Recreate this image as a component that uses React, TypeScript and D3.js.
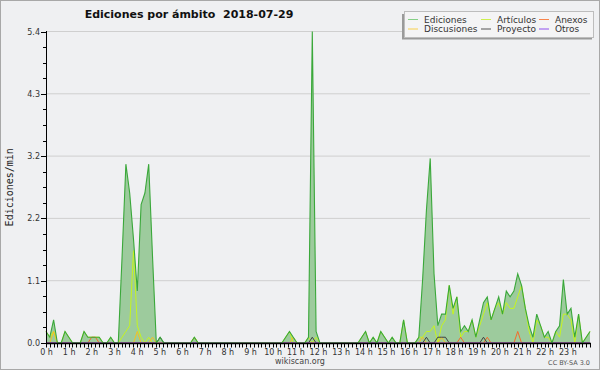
import React from "react";
import * as d3 from "d3";

const hourLabels = [
  "0 h", "1 h", "2 h", "3 h", "4 h", "5 h", "6 h", "7 h", "8 h", "9 h", "10 h", "11 h",
  "12 h", "13 h", "14 h", "15 h", "16 h", "17 h", "18 h", "19 h", "20 h", "21 h", "22 h", "23 h",
];

// edits per minute, 10-minute bins (144 per day)
const ediciones = [
  0.2, 0.1, 0.4, 0, 0, 0.2, 0.1, 0, 0, 0, 0.2, 0.1,
  0.1, 0.1, 0.1, 0, 0, 0.1, 0, 0, 1.5, 3.1, 2.6, 1.8,
  0.9, 2.4, 2.6, 3.1, 1.5, 0, 0.1, 0, 0, 0, 0, 0,
  0, 0, 0, 0.1, 0, 0, 0, 0, 0, 0, 0, 0,
  0, 0, 0, 0, 0, 0, 0, 0, 0, 0, 0, 0,
  0, 0, 0, 0.1, 0.2, 0.1, 0, 0, 0, 0.1, 5.4, 0.2,
  0, 0, 0, 0, 0, 0, 0, 0, 0, 0, 0, 0.1,
  0.2, 0, 0.1, 0, 0.2, 0.1, 0, 0.1, 0, 0, 0.4, 0,
  0, 0, 0.1, 1.1, 2.3, 3.2, 1.2, 0.3, 0.5, 0.5, 1.0, 0.6,
  0.8, 0.2, 0.3, 0.2, 0.4, 0.1, 0.4, 0.7, 0.8, 0.4, 0.6, 0.8,
  0.5, 0.9, 0.8, 0.9, 1.2, 1.0, 0.6, 0.3, 0.1, 0.5, 0.3, 0.1,
  0.2, 0, 0.2, 0.3, 1.1, 0.5, 0.6, 0.1, 0.5, 0, 0.1, 0.2,
];

const articulos = [
  0.2, 0.1, 0.2, 0, 0, 0.2, 0.1, 0, 0, 0, 0.2, 0.1,
  0.1, 0.1, 0.1, 0, 0, 0.1, 0, 0, 0.1, 0.2, 0.3, 1.6,
  0.3, 0.1, 0, 0.1, 0, 0, 0, 0, 0, 0, 0, 0,
  0, 0, 0, 0.1, 0, 0, 0, 0, 0, 0, 0, 0,
  0, 0, 0, 0, 0, 0, 0, 0, 0, 0, 0, 0,
  0, 0, 0, 0.1, 0.2, 0, 0, 0, 0, 0.1, 0, 0.1,
  0, 0, 0, 0, 0, 0, 0, 0, 0, 0, 0, 0.1,
  0.2, 0, 0.1, 0, 0.2, 0.1, 0, 0.1, 0, 0, 0.4, 0,
  0, 0, 0.1, 0.1, 0.2, 0.2, 0.3, 0, 0.3, 0.4, 1.0, 0.5,
  0.8, 0.1, 0.2, 0.2, 0.4, 0.1, 0.3, 0.5, 0.7, 0.4, 0.6, 0.7,
  0.5, 0.7, 0.6, 0.6, 0.8, 1.0, 0.6, 0.2, 0, 0.4, 0.3, 0.1,
  0.1, 0, 0.2, 0.1, 0.5, 0.5, 0.4, 0, 0.5, 0, 0.1, 0.2,
];

const anexos = [
  0, 0, 0, 0, 0, 0, 0, 0, 0, 0, 0, 0,
  0.1, 0.1, 0, 0, 0, 0, 0, 0, 0, 0, 0, 0,
  0, 0, 0, 0, 0, 0, 0, 0, 0, 0, 0, 0,
  0, 0, 0, 0, 0, 0, 0, 0, 0, 0, 0, 0,
  0, 0, 0, 0, 0, 0, 0, 0, 0, 0, 0, 0,
  0, 0, 0, 0, 0, 0, 0, 0, 0, 0, 0, 0,
  0, 0, 0, 0, 0, 0, 0, 0, 0, 0, 0, 0,
  0, 0, 0, 0, 0, 0, 0, 0, 0, 0, 0, 0,
  0, 0, 0, 0, 0, 0, 0, 0, 0, 0, 0, 0,
  0, 0.1, 0, 0, 0, 0, 0, 0, 0.1, 0, 0, 0,
  0, 0, 0, 0, 0.2, 0, 0, 0, 0, 0, 0, 0,
  0, 0, 0, 0, 0, 0, 0, 0, 0, 0, 0, 0,
];

const discusiones = [
  0, 0, 0.2, 0, 0, 0, 0, 0, 0, 0, 0, 0,
  0, 0, 0, 0, 0, 0, 0, 0, 0, 0, 0, 0,
  0.2, 0, 0, 0, 0.1, 0, 0, 0, 0, 0, 0, 0,
  0, 0, 0, 0.1, 0, 0, 0, 0, 0, 0, 0, 0,
  0, 0, 0, 0, 0, 0, 0, 0, 0, 0, 0, 0,
  0, 0, 0, 0, 0, 0.1, 0, 0, 0, 0, 0, 0,
  0, 0, 0, 0, 0, 0, 0, 0, 0, 0, 0, 0,
  0, 0, 0, 0, 0, 0, 0, 0, 0, 0, 0, 0,
  0, 0, 0, 0.1, 0, 0, 0, 0, 0.1, 0, 0, 0,
  0, 0, 0, 0, 0, 0, 0, 0, 0, 0, 0, 0,
  0, 0, 0, 0, 0, 0, 0, 0, 0, 0, 0, 0,
  0, 0, 0, 0, 0, 0, 0, 0, 0, 0, 0, 0,
];

const proyecto = [
  0, 0, 0, 0, 0, 0, 0, 0, 0, 0, 0, 0,
  0, 0, 0, 0, 0, 0, 0, 0, 0, 0, 0, 0,
  0, 0, 0, 0, 0, 0, 0.1, 0, 0, 0, 0, 0,
  0, 0, 0, 0, 0, 0, 0, 0, 0, 0, 0, 0,
  0, 0, 0, 0, 0, 0, 0, 0, 0, 0, 0, 0,
  0, 0, 0, 0, 0, 0, 0, 0, 0, 0, 0.1, 0,
  0, 0, 0, 0, 0, 0, 0, 0, 0, 0, 0, 0,
  0, 0, 0, 0, 0, 0, 0, 0, 0, 0, 0, 0,
  0, 0, 0, 0, 0.1, 0, 0, 0.1, 0.1, 0.1, 0, 0,
  0, 0, 0, 0, 0, 0, 0, 0.1, 0, 0, 0, 0,
  0, 0, 0, 0, 0, 0, 0, 0, 0, 0, 0, 0,
  0, 0, 0, 0, 0, 0, 0, 0, 0, 0, 0, 0,
];

const otros = [
  0, 0, 0, 0, 0, 0, 0, 0, 0, 0, 0, 0,
  0, 0, 0, 0, 0, 0, 0, 0, 0, 0, 0, 0,
  0, 0, 0, 0, 0, 0, 0, 0, 0, 0, 0, 0,
  0, 0, 0, 0, 0, 0, 0, 0, 0, 0, 0, 0,
  0, 0, 0, 0, 0, 0, 0, 0, 0, 0, 0, 0,
  0, 0, 0, 0, 0, 0, 0, 0, 0, 0, 0, 0,
  0, 0, 0, 0, 0, 0, 0, 0, 0, 0, 0, 0,
  0, 0, 0, 0, 0, 0, 0, 0, 0, 0, 0, 0,
  0, 0, 0, 0, 0, 0, 0, 0, 0, 0, 0, 0,
  0, 0, 0, 0, 0, 0, 0, 0, 0, 0, 0, 0,
  0, 0, 0, 0, 0, 0, 0, 0, 0, 0, 0, 0,
  0, 0, 0, 0, 0, 0, 0, 0, 0, 0, 0, 0,
];

const seriesNames = ["Ediciones", "Artículos", "Anexos", "Discusiones", "Proyecto", "Otros"];
const legendOrder = ["Ediciones", "Artículos", "Anexos", "Discusiones", "Proyecto", "Otros"];
const yMax = 5.4;
const titleText = "Ediciones por ámbito  2018-07-29";
const yLabel = "Ediciones/min";

const W = 600;
const H = 370;
const L = 46;
const R = 590;
const T = 31.5;
const B = 343;

const lineColors: Record<string, string> = {
  Ediciones: "#3aa83a",
  "Artículos": "#c6f51f",
  Anexos: "#f56a2a",
  Discusiones: "#f5c21f",
  Proyecto: "#404040",
  Otros: "#8a3ff0",
};
const legendColors: Record<string, string> = {
  Ediciones: "#86d086",
  "Artículos": "#cdef4f",
  Anexos: "#f8844c",
  Discusiones: "#f8d04c",
  Proyecto: "#555555",
  Otros: "#9050ee",
};

export default function App() {
  const data: Record<string, number[]> = {
    Ediciones: ediciones,
    "Artículos": articulos,
    Anexos: anexos,
    Discusiones: discusiones,
    Proyecto: proyecto,
    Otros: otros,
  };
  const xb = d3.scaleLinear().domain([0, ediciones.length - 1]).range([L, R]);
  const xh = d3.scaleLinear().domain([0, 24]).range([L, R]);
  const y = d3.scaleLinear().domain([0, yMax]).range([B, T]);

  const area = d3
    .area<number>()
    .x((_, i) => xb(i))
    .y0(B)
    .y1((d) => y(d));
  const line = d3
    .line<number>()
    .x((_, i) => xb(i))
    .y((d) => y(d));

  const majors = d3.range(6).map((k) => (yMax * k) / 5);
  const minors = d3.range(21).map((k) => (yMax * k) / 20).filter((_, k) => k % 4 !== 0);
  const xTicks = d3.range(0, 24 * 6 + 1).map((k) => k / 6);
  const fmt = d3.format(".1f");

  const font = "'DejaVu Sans', Verdana, sans-serif";
  const legendCols = [408, 481, 539];
  const legendRows = [19.5, 29];

  return (
    <svg
      width={W}
      height={H}
      style={{ position: "absolute", left: 0, top: 0, display: "block" }}
      xmlns="http://www.w3.org/2000/svg"
    >
      <rect x={0.5} y={0.5} width={W - 1} height={H - 1} fill="#eff0f2" stroke="#a8a8a8" />

      {/* grid */}
      {majors.slice(1).map((v) => (
        <line key={"g" + v} x1={L} x2={R} y1={y(v)} y2={y(v)} stroke="#cfcfcf" strokeWidth={1} />
      ))}

      {/* total area */}
      <path d={area(ediciones) || ""} fill="#9dcb9d" stroke="none" />
      {seriesNames.slice(1).map((name) => (
        <path
          key={name}
          d={line(data[name]) || ""}
          fill="none"
          stroke={lineColors[name]}
          strokeWidth={1}
          strokeLinejoin="round"
        />
      ))}
      <path d={line(ediciones) || ""} fill="none" stroke={lineColors.Ediciones} strokeWidth={1.1} />

      {/* y axis */}
      <line x1={L + 0.5} x2={L + 0.5} y1={T - 0.5} y2={B + 0.5} stroke="#000" />
      {majors.map((v) => (
        <g key={"ym" + v}>
          <line x1={L - 5} x2={L} y1={Math.round(y(v)) + 0.5} y2={Math.round(y(v)) + 0.5} stroke="#000" />
          <text
            x={L - 6}
            y={y(v) + 3}
            textAnchor="end"
            fontFamily={font}
            fontSize={8}
            fill="#333"
          >
            {fmt(v)}
          </text>
        </g>
      ))}
      {minors.map((v) => (
        <line
          key={"yn" + v}
          x1={L - 3}
          x2={L}
          y1={Math.round(y(v)) + 0.5}
          y2={Math.round(y(v)) + 0.5}
          stroke="#000"
        />
      ))}

      {/* x axis */}
      <line x1={L} x2={R + 1} y1={B + 0.5} y2={B + 0.5} stroke="#000" strokeWidth={1.3} />
      {xTicks.map((h) => (
        <line
          key={"xt" + h}
          x1={Math.round(xh(h)) + 0.5}
          x2={Math.round(xh(h)) + 0.5}
          y1={B}
          y2={B + 4.5}
          stroke="#000"
        />
      ))}
      {hourLabels.map((lab, h) => (
        <text
          key={lab}
          x={xh(h) + 0.5}
          y={354.5}
          textAnchor="middle"
          fontFamily={font}
          fontSize={8}
          fill="#333"
        >
          {lab}
        </text>
      ))}

      {/* title */}
      <text
        x={189}
        y={18}
        textAnchor="middle"
        fontFamily={font}
        fontWeight="bold"
        fontSize={11}
        fill="#111"
        style={{ whiteSpace: "pre" }}
      >
        {titleText}
      </text>

      {/* y label */}
      <text
        transform={`translate(13, ${(T + B) / 2}) rotate(-90)`}
        textAnchor="middle"
        fontFamily="'DejaVu Sans Mono', monospace"
        fontSize={10}
        fill="#222"
      >
        {yLabel}
      </text>

      {/* legend */}
      <rect x={402} y={14} width={190} height={25.5} fill="#9a9a9a" />
      <rect x={404.5} y={11.5} width={189} height={26} fill="#f4f4f5" stroke="#bdbdbd" />
      {legendOrder.map((name, k) => {
        const cx = legendCols[k % 3];
        const cy = legendRows[Math.floor(k / 3)];
        return (
          <g key={"lg" + name}>
            <line x1={cx} x2={cx + 10} y1={cy} y2={cy} stroke={legendColors[name]} strokeWidth={1} />
            <text x={cx + 16} y={cy + 3} fontFamily={font} fontSize={9} fill="#333">
              {name}
            </text>
          </g>
        );
      })}

      {/* footer */}
      <text x={300} y={364} textAnchor="middle" fontFamily={font} fontSize={8} fill="#444">
        wikiscan.org
      </text>
      <text x={590} y={365} textAnchor="end" fontFamily={font} fontSize={6.5} fill="#555">
        CC BY-SA 3.0
      </text>
    </svg>
  );
}
